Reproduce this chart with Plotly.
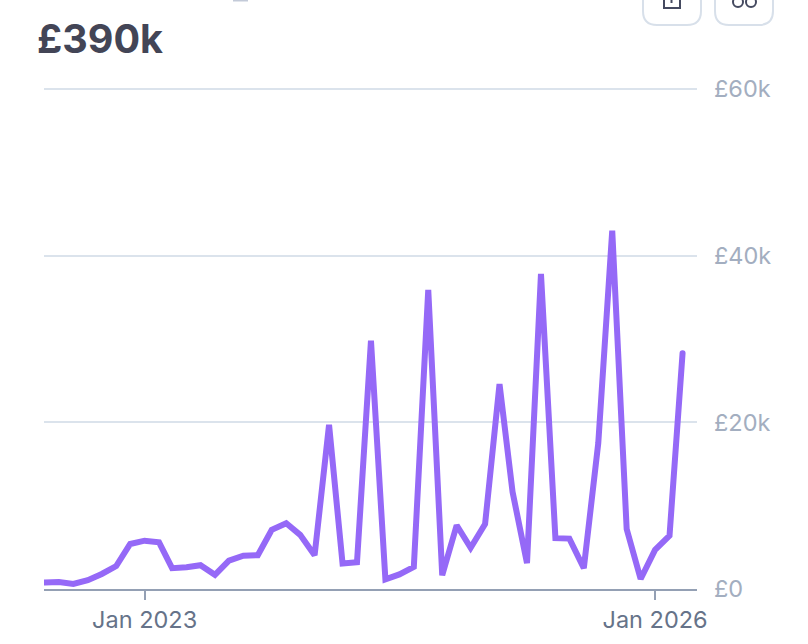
import plotly.graph_objects as go
import pandas as pd

months = pd.date_range("2022-06-01", "2026-03-01", freq="MS").strftime("%Y-%m-%d").tolist()
values = [780, 840, 600, 1050, 1800, 2750, 5400, 5800, 5600, 2500, 2600, 2850, 1700, 3400, 4000, 4050,
          7100, 7900, 6500, 4050, 19700, 3050, 3200, 29800, 1150, 1750, 2650, 35900, 1650, 7650, 4950,
          7800, 24600, 11650, 3100, 37800, 6100, 6050, 2500, 17500, 43000, 7200, 1200, 4700, 6400, 28300]
y_ticks = [0, 20000, 40000, 60000]
y_labels = ["£0", "£20k", "£40k", "£60k"]
x_ticks = ["2023-01-01", "2026-01-01"]
x_labels = ["Jan 2023", "Jan 2026"]
headline = "£390k"

W, H = 808, 644
L, R, T, B = 44, 697, 79, 589
Y60 = 89  # pixel row of the top gridline
FONT = "Inter, Noto Sans, sans-serif"
y_top = 60000 * (B - T) / (B - Y60)
pw, ph = R - L, B - T


def fx(x):
    return (x - L) / pw


def fy(y):
    return (B - y) / ph


def rounded_button(x0, x1, bottom, r=14):
    top = -20
    return (f"M {fx(x0)} {fy(top)} L {fx(x0)} {fy(bottom - r)} "
            f"Q {fx(x0)} {fy(bottom)} {fx(x0 + r)} {fy(bottom)} "
            f"L {fx(x1 - r)} {fy(bottom)} Q {fx(x1)} {fy(bottom)} {fx(x1)} {fy(bottom - r)} "
            f"L {fx(x1)} {fy(top)}")


def paper_shape(kind, x0, x1, y0, y1, color, width):
    return dict(type=kind, xref="paper", yref="paper", x0=fx(x0), x1=fx(x1), y0=fy(y0), y1=fy(y1),
                line=dict(color=color, width=width))


ICON = "#454a60"
BORDER = "#d8e0ea"
shapes = [
    dict(type="path", xref="paper", yref="paper", path=rounded_button(643, 701, 25),
         line=dict(color=BORDER, width=2)),
    dict(type="path", xref="paper", yref="paper", path=rounded_button(715, 773, 25),
         line=dict(color=BORDER, width=2)),
    dict(type="path", xref="paper", yref="paper",
         path=f"M {fx(664)} {fy(-1)} L {fx(664)} {fy(8)} L {fx(680)} {fy(8)} L {fx(680)} {fy(-1)}",
         line=dict(color=ICON, width=2)),
    paper_shape("line", 671.5, 671.5, 0, 3, ICON, 2),
    paper_shape("circle", 733, 743, -3, 7, ICON, 2),
    paper_shape("circle", 746, 756, -3, 7, ICON, 2),
    dict(type="rect", xref="paper", yref="paper", x0=fx(233), x1=fx(248), y0=fy(1.5), y1=fy(-1),
         fillcolor="#c3cad8", line=dict(width=0)),
]

fig = go.Figure(go.Scatter(x=months, y=values, mode="lines", hoverinfo="skip",
                           line=dict(color="#9569f7", width=6), showlegend=False))

fig.update_layout(
    width=W, height=H, paper_bgcolor="white", plot_bgcolor="white",
    margin=dict(l=L, r=W - R, t=T, b=H - B, autoexpand=False),
    font=dict(family=FONT),
    shapes=shapes,
    annotations=[dict(text=f"<b>{headline}</b>", xref="paper", yref="paper",
                      x=fx(35), y=fy(39), xanchor="left", yanchor="middle",
                      showarrow=False, font=dict(size=39.5, color="#434556", family="Inter"))],
    xaxis=dict(type="date", range=["2022-05-30", "2026-04-01"], tickmode="array", tickvals=x_ticks,
               ticktext=x_labels, showgrid=False, zeroline=False, showline=True, linecolor="#94a0b4",
               linewidth=2, ticks="outside", ticklen=9, tickwidth=1.5, tickcolor="#94a0b4",
               tickfont=dict(size=23.5, color="#667389", family=FONT)),
    yaxis=dict(side="right", range=[0, y_top], tickmode="array", tickvals=y_ticks, ticktext=y_labels,
               showgrid=True, gridcolor="#dbe3ec", gridwidth=2, zeroline=False, showline=False,
               ticks="", ticklabelstandoff=16,
               tickfont=dict(size=23.5, color="#a3aec0", family=FONT)),
)

fig.write_html("out.html", config=dict(displayModeBar=False),
               post_script="document.body.style.margin='0';document.querySelectorAll('.js-line').forEach(function(p){p.style.strokeLinecap='round';});")
